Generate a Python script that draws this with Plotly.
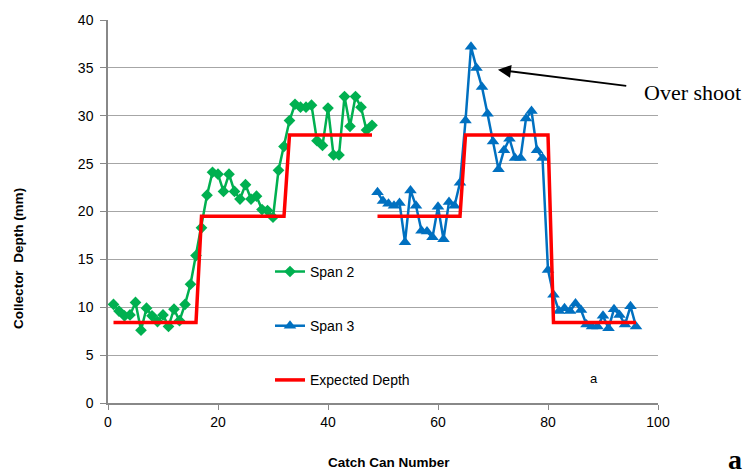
import plotly.graph_objects as go

# Span 2 catch cans 1-48
span2_x = list(range(1, 49))
span2_y = [10.3, 9.6, 9.1, 9.2, 10.5, 7.6, 9.9, 9.1, 8.5, 9.2,
           8.0, 9.8, 8.6, 10.3, 12.4, 15.4, 18.3, 21.7, 24.1, 23.9,
           22.1, 23.9, 22.1, 21.3, 22.8, 21.3, 21.6, 20.2, 20.1, 19.4,
           24.3, 26.8, 29.5, 31.2, 30.9, 30.9, 31.1, 27.4, 26.9, 30.8,
           25.9, 25.9, 32.0, 28.9, 32.0, 30.9, 28.5, 29.0]

# Span 3 catch cans 49-96
span3_x = list(range(49, 97))
span3_y = [22.0, 21.1, 20.8, 20.6, 20.9, 16.8, 22.2, 20.6, 18.0, 17.9,
           17.3, 20.5, 17.1, 21.0, 20.6, 23.0, 29.5, 37.2, 35.0, 33.0,
           30.2, 27.3, 24.4, 26.4, 27.6, 25.6, 25.6, 29.7, 30.5, 26.4,
           25.6, 13.9, 11.3, 9.6, 9.9, 9.6, 10.4, 9.7, 8.2, 8.0,
           8.0, 9.1, 7.8, 9.8, 9.2, 8.2, 10.1, 8.0]

# Expected depth steps
exp_x1 = [1, 16, 17, 32, 33, 48]
exp_y1 = [8.4, 8.4, 19.5, 19.5, 28.0, 28.0]
exp_x2 = [49, 64, 65, 80, 81, 96]
exp_y2 = [19.5, 19.5, 28.0, 28.0, 8.4, 8.4]

x_ticks = [0, 20, 40, 60, 80, 100]
y_ticks = [0, 5, 10, 15, 20, 25, 30, 35, 40]

GREEN = "#00B050"
BLUE = "#0070C0"
RED = "#FF0000"
FONT = "Liberation Sans, Arial, sans-serif"
SERIF = "Liberation Serif, Times New Roman, serif"

# plot area in pixels: left 108, right 658, top 15, bottom 403
L, R, T, B = 108, 658, 15, 403


def px(xp, yp):
    """Convert a pixel position on the page to paper coordinates."""
    return (xp - L) / (R - L), (B - yp) / (B - T)


fig = go.Figure()
fig.add_trace(go.Scatter(
    x=span2_x, y=span2_y, mode="lines+markers", name="Span 2",
    legendgroup="s2",
    line=dict(color=GREEN, width=2.5),
    marker=dict(symbol="diamond", size=9, color=GREEN),
))
fig.add_trace(go.Scatter(
    x=span3_x, y=span3_y, mode="lines+markers", name="Span 3",
    legendgroup="s3",
    line=dict(color=BLUE, width=2.5),
    marker=dict(symbol="triangle-up", size=11, color=BLUE),
))
fig.add_trace(go.Scatter(
    x=exp_x1 + [None] + exp_x2, y=exp_y1 + [None] + exp_y2,
    mode="lines", name="Expected Depth", legendgroup="exp",
    connectgaps=False,
    line=dict(color=RED, width=3.5),
))

lx, ly = px(270, 254)
fig.update_layout(
    width=746, height=476,
    margin=dict(l=L, r=746 - R, t=T, b=476 - B),
    paper_bgcolor="white", plot_bgcolor="white",
    font=dict(family=FONT, size=14, color="#000000"),
    showlegend=True,
    legend=dict(
        x=lx, y=ly, xanchor="left", yanchor="top",
        bgcolor="rgba(0,0,0,0)", font=dict(size=14),
        tracegroupgap=33, itemwidth=30,
    ),
    xaxis=dict(
        range=[0, 100], tickvals=x_ticks, showgrid=False,
        showline=True, linecolor="#888888", linewidth=1.5,
        ticks="outside", ticklen=5, tickcolor="#888888",
        zeroline=False,
    ),
    yaxis=dict(
        range=[0, 40], tickvals=y_ticks, showgrid=True,
        gridcolor="#A6A6A6", gridwidth=1,
        showline=True, linecolor="#888888", linewidth=1.5,
        ticks="outside", ticklen=6, tickcolor="#888888",
        zeroline=False, ticklabelstandoff=4,
    ),
)

# Axis titles
tx, ty = px(389, 463)
fig.add_annotation(
    x=tx, y=ty, xref="paper", yref="paper", text="<b>Catch Can Number</b>",
    showarrow=False, xanchor="center", yanchor="middle",
    font=dict(size=13.5),
)
tx, ty = px(19, 257)
fig.add_annotation(
    x=tx, y=ty, xref="paper", yref="paper", text="<b>Collector  Depth (mm)</b>",
    showarrow=False, xanchor="center", yanchor="middle", textangle=-90,
    font=dict(size=13.5),
)

# Arrow pointing at the peak
fig.add_annotation(
    x=70.9, y=34.8, ax=94.5, ay=33.1,
    xref="x", yref="y", axref="x", ayref="y",
    text="", showarrow=True, arrowhead=2, arrowsize=1.3,
    arrowwidth=2, arrowcolor="#000000",
)
tx, ty = px(692, 88)
fig.add_annotation(
    x=tx, y=ty, xref="paper", yref="paper", text="Over shoot",
    showarrow=False, xanchor="center", yanchor="middle",
    font=dict(family=SERIF, size=22, color="#000000"),
)
fig.add_annotation(
    x=88.3, y=2.6, xref="x", yref="y", text="a", showarrow=False,
    font=dict(family=FONT, size=13, color="#000000"),
)
tx, ty = px(735, 460)
fig.add_annotation(
    x=tx, y=ty, xref="paper", yref="paper", text="<b>a</b>",
    showarrow=False, xanchor="center", yanchor="middle",
    font=dict(family=SERIF, size=28, color="#000000"),
)

fig.write_html("out.html")
